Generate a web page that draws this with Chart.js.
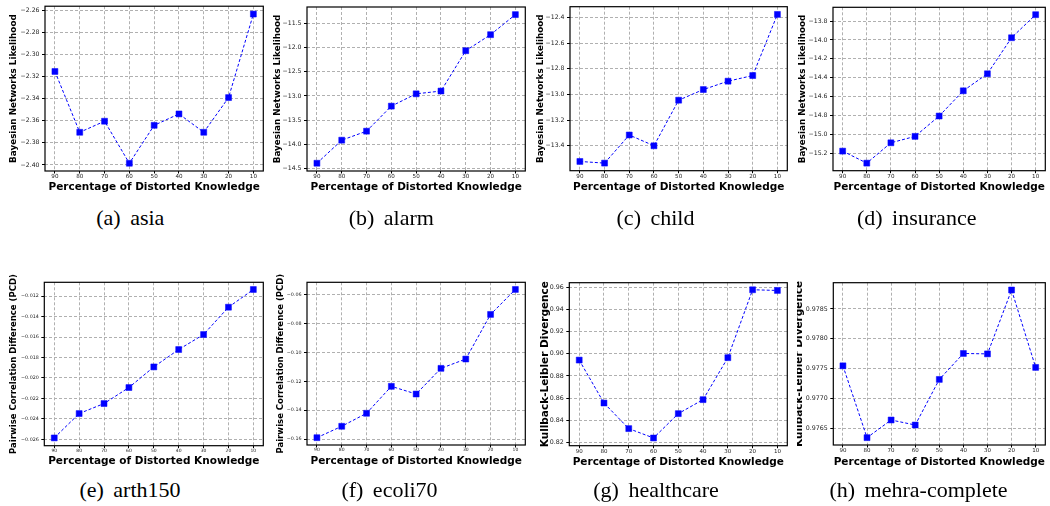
<!DOCTYPE html>
<html><head><meta charset="utf-8">
<script src="https://cdn.jsdelivr.net/npm/chart.js@4/dist/chart.umd.min.js"></script>
<style>
html,body{margin:0;padding:0;background:#fff;width:1050px;height:506px;overflow:hidden;position:relative}
canvas{position:absolute}
.cap{position:absolute;font-family:"Liberation Serif","Times New Roman",serif;font-size:22px;color:#000;white-space:nowrap;transform:translate(-50%,-50%);word-spacing:4px;line-height:1}
</style></head><body>
<script>
// ---- data ----
const categories = ["90","80","70","60","50","40","30","20","10"];

const asiaValues       = [-2.3155, -2.3705, -2.3605, -2.3985, -2.3642, -2.3539, -2.3705, -2.3391, -2.2636];
const alarmValues      = [-14.39, -13.914, -13.728, -13.211, -12.957, -12.90, -12.067, -11.736, -11.322];
const childValues      = [-13.522, -13.535, -13.316, -13.40, -13.045, -12.962, -12.897, -12.853, -12.377];
const insuranceValues  = [-15.176, -15.303, -15.088, -15.02, -14.805, -14.538, -14.358, -13.977, -13.733];
const arth150Values    = [-0.02587, -0.023484, -0.022505, -0.020938, -0.018921, -0.017218, -0.01575, -0.013077, -0.011344];
const ecoli70Values    = [-0.15907, -0.15117, -0.14216, -0.12346, -0.12879, -0.11099, -0.10454, -0.07358, -0.05626];
const healthcareValues = [0.89433, 0.85548, 0.83236, 0.82387, 0.8459, 0.85855, 0.8965, 0.95792, 0.95729];
const mehraValues      = [0.977547, 0.976343, 0.976639, 0.976555, 0.977319, 0.977754, 0.977747, 0.978818, 0.97752];

const asiaTicks       = [-2.40, -2.38, -2.36, -2.34, -2.32, -2.30, -2.28, -2.26];
const alarmTicks      = [-14.5, -14.0, -13.5, -13.0, -12.5, -12.0, -11.5];
const childTicks      = [-13.4, -13.2, -13.0, -12.8, -12.6, -12.4];
const insuranceTicks  = [-15.2, -15.0, -14.8, -14.6, -14.4, -14.2, -14.0, -13.8];
const arth150Ticks    = [-0.026, -0.024, -0.022, -0.020, -0.018, -0.016, -0.014, -0.012];
const ecoli70Ticks    = [-0.16, -0.14, -0.12, -0.10, -0.08, -0.06];
const healthcareTicks = [0.82, 0.84, 0.86, 0.88, 0.90, 0.92, 0.94, 0.96];
const mehraTicks      = [0.9765, 0.9770, 0.9775, 0.9780, 0.9785];

const xTitle = "Percentage of Distorted Knowledge";
const bnTitle = "Bayesian Networks Likelihood";
const pcdTitle = "Pairwise Correlation Difference (PCD)";
const klTitle = "Kullback-Leibler Divergence";

const captions = ["(a) asia", "(b) alarm", "(c) child", "(d) insurance",
                  "(e) arth150", "(f) ecoli70", "(g) healthcare", "(h) mehra-complete"];

// ---- panels (geometry + styles) ----
const panels = [
  {values: asiaValues, ticks: asiaTicks, dec: 2, ymin: -2.4055, ymax: -2.2565, ytitle: bnTitle,
   cx: 0, cy: 0, cw: 268, ch: 200, L: 45, T: 6, R: 265, B: 171, yt: 14, xt: 187.7, ytf: 8.8, ytick: 6.2, xtick: 5.6, cap: [130.3, 218]},
  {values: alarmValues, ticks: alarmTicks, dec: 1, ymin: -14.55, ymax: -11.165, ytitle: bnTitle,
   cx: 266, cy: 0, cw: 264, ch: 200, L: 307, T: 7, R: 527, B: 171, yt: 277.8, xt: 187.7, ytf: 8.8, ytick: 6.2, xtick: 5.6, cap: [391.3, 218]},
  {values: childValues, ticks: childTicks, dec: 1, ymin: -13.594, ymax: -12.317, ytitle: bnTitle,
   cx: 531, cy: 0, cw: 261, ch: 200, L: 570, T: 6.7, R: 789, B: 170.7, yt: 540.7, xt: 187.7, ytf: 8.8, ytick: 6.2, xtick: 5.6, cap: [655.5, 218]},
  {values: insuranceValues, ticks: insuranceTicks, dec: 1, ymin: -15.383, ymax: -13.655, ytitle: bnTitle,
   cx: 793, cy: 0, cw: 257, ch: 200, L: 833, T: 7.3, R: 1049.5, B: 170.7, yt: 803, xt: 187.7, ytf: 8.8, ytick: 6.2, xtick: 5.6, cap: [916.7, 218]},
  {values: arth150Values, ticks: arth150Ticks, dec: 3, ymin: -0.02663, ymax: -0.01064, ytitle: pcdTitle,
   cx: 0, cy: 268, cw: 268, ch: 205, L: 44.3, T: 282.3, R: 265, B: 445.7, yt: 13.7, xt: 461.7, ytf: 8.5, ytick: 4.8, xtick: 4.5, cap: [130, 489.5]},
  {values: ecoli70Values, ticks: ecoli70Ticks, dec: 2, ymin: -0.16415, ymax: -0.0513, ytitle: pcdTitle,
   cx: 266, cy: 268, cw: 264, ch: 205, L: 307, T: 282.3, R: 527.7, B: 445, yt: 280.7, xt: 461.7, ytf: 8.5, ytick: 4.8, xtick: 4.5, cap: [389.5, 489.5]},
  {values: healthcareValues, ticks: healthcareTicks, dec: 2, ymin: 0.8169, ymax: 0.9643, ytitle: klTitle,
   cx: 531, cy: 268, cw: 261, ch: 205, L: 569.3, T: 282.7, R: 789.3, B: 445.7, yt: 545.3, xt: 462.7, ytf: 10.5, ytick: 6.3, xtick: 5.5, cap: [656, 489.5]},
  {values: mehraValues, ticks: mehraTicks, dec: 4, ymin: 0.97622, ymax: 0.97894, ytitle: klTitle,
   cx: 797, cy: 268, cw: 253, ch: 205, L: 833.3, T: 282.7, R: 1049.5, B: 445, yt: 799.3, xt: 462.3, ytf: 10.5, ytick: 6.3, xtick: 5.5, cap: [918.5, 489.5]}
];

const FONT = "'DejaVu Sans', sans-serif";

const framePlugin = {
  id: 'frame',
  afterDatasetsDraw(chart) {
    const a = chart.chartArea, ctx = chart.ctx;
    ctx.save();
    ctx.strokeStyle = '#000';
    ctx.lineWidth = 1.2;
    ctx.setLineDash([]);
    ctx.strokeRect(a.left, a.top, a.right - a.left, a.bottom - a.top);
    ctx.restore();
  }
};

panels.forEach((p, idx) => {
  const c = document.createElement('canvas');
  c.width = p.cw; c.height = p.ch;
  c.style.left = p.cx + 'px'; c.style.top = p.cy + 'px';
  c.style.width = p.cw + 'px'; c.style.height = p.ch + 'px';
  document.body.appendChild(c);

  const yW = p.L - p.cx;
  const xH = (p.cy + p.ch) - p.B;
  const ylh = p.ytf * 1.2, xlh = 10.5 * 1.2;

  new Chart(c, {
    type: 'line',
    data: {
      datasets: [{
        data: p.values.map((v, i) => ({x: i, y: v})),
        borderColor: '#0000ff',
        backgroundColor: '#0000ff',
        borderWidth: 1,
        borderDash: [3, 2],
        pointStyle: 'rect',
        pointRadius: 4.2,
        pointBorderWidth: 0.5,
        pointBackgroundColor: '#0000ff',
        pointBorderColor: '#0000ff',
        tension: 0,
        fill: false,
        clip: false
      }]
    },
    options: {
      responsive: false,
      animation: false,
      devicePixelRatio: 1,
      events: [],
      layout: {padding: {left: 0, top: p.T - p.cy, right: (p.cx + p.cw) - p.R, bottom: 0}},
      plugins: {legend: {display: false}, tooltip: {enabled: false}},
      scales: {
        x: {
          type: 'linear', min: -0.4, max: 8.4,
          afterBuildTicks: s => { s.ticks = categories.map((_, i) => ({value: i})); },
          afterFit: s => { s.height = xH; },
          ticks: {autoSkip: false, maxRotation: 0, padding: 0, color: '#222',
                  font: {family: FONT, size: p.xtick},
                  callback: v => categories[v]},
          grid: {color: '#b0b0b0', lineWidth: 1, tickLength: 2.5, tickColor: '#000', tickWidth: 1, tickBorderDash: []},
          border: {display: false, dash: [3, 2]},
          title: {display: true, text: xTitle, color: '#000',
                  font: {family: FONT, size: 10.5, weight: 'bold'},
                  padding: {top: 0, bottom: (p.cy + p.ch) - p.xt - xlh / 2}}
        },
        y: {
          type: 'linear', min: p.ymin, max: p.ymax,
          afterBuildTicks: s => { s.ticks = p.ticks.map(v => ({value: v})); },
          afterFit: s => { s.width = yW; },
          ticks: {padding: 2.5, color: '#222', font: {family: FONT, size: p.ytick},
                  callback: v => Number(v).toFixed(p.dec).replace('-', '\u2212')},
          grid: {color: '#b0b0b0', lineWidth: 1, tickLength: 3, tickColor: '#000', tickWidth: 1, tickBorderDash: []},
          border: {display: false, dash: [3, 2]},
          title: {display: true, text: p.ytitle, color: '#000',
                  font: {family: FONT, size: p.ytf, weight: 'bold'},
                  padding: {top: p.yt - p.cx - ylh / 2, bottom: 0}}
        }
      }
    },
    plugins: [framePlugin]
  });

  const d = document.createElement('div');
  d.className = 'cap';
  d.textContent = captions[idx];
  d.style.left = p.cap[0] + 'px';
  d.style.top = p.cap[1] + 'px';
  document.body.appendChild(d);
});
</script>
</body></html>
